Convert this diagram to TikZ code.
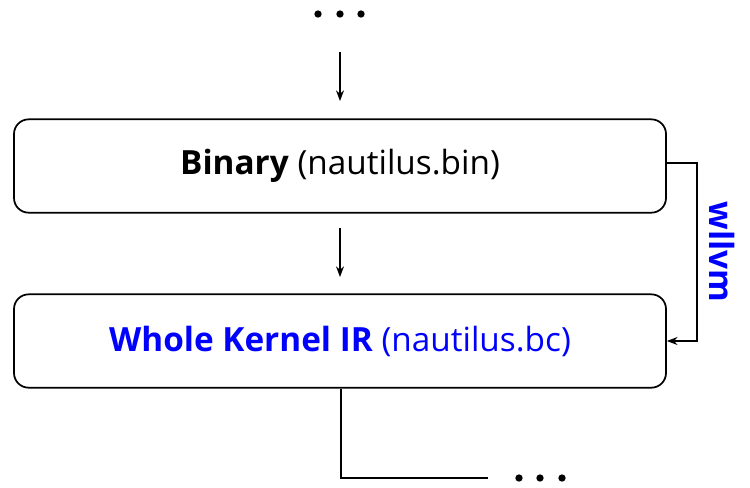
\documentclass[tikz,border=0pt]{standalone}
\usepackage{fontspec}
\setmainfont{Open Sans}
\usetikzlibrary{arrows.meta}
\definecolor{kblue}{RGB}{0,0,255}
\begin{document}
\begin{tikzpicture}[x=0.75pt,y=-0.75pt,
  stage/.style={draw=black,line width=1.3pt,rounded corners=11pt,minimum width=489pt,minimum height=70pt,inner sep=0pt,font=\fontsize{25}{29}\selectfont},
  conn/.style={draw=black,line width=1.1pt},
  arr/.style={conn,-{Stealth[length=8pt,width=6pt]}},
  dot/.style={circle,fill=black,inner sep=0pt,minimum size=5.5pt}]
\useasboundingbox (0,0) rectangle (750,487);
% leading ellipsis
\node[dot] (t1) at (318,14) {};
\node[dot] (t2) at (340,14) {};
\node[dot] (t3) at (361,14) {};
\coordinate (a1s) at (340,52);
\coordinate (a1e) at (340,101);
\draw[arr] (a1s) -- (a1e);
% stages
\node[stage] (bin) at (340,166) {\textbf{Binary} (nautilus.bin)};
\coordinate (a2s) at (340,228);
\coordinate (a2e) at (340,277);
\draw[arr] (a2s) -- (a2e);
\node[stage,text=kblue] (ir) at (340,341) {\textbf{Whole Kernel IR} (nautilus.bc)};
% wllvm side path
\coordinate (sideA) at (697,163);
\draw[arr] (bin.east |- sideA) -- (sideA) -- (sideA |- ir.east) -- (ir.east);
\node[rotate=-90,text=kblue,font=\fontsize{25}{29}\selectfont\bfseries] (wl) at (722,252) {wllvm};
% trailing path
\coordinate (corner) at (341,478);
\coordinate (tail) at (488,478);
\draw[conn] (ir.south -| corner) -- (corner) -- (tail);
\node[dot] (b1) at (519,478) {};
\node[dot] (b2) at (540,478) {};
\node[dot] (b3) at (562,478) {};
\end{tikzpicture}
\end{document}
